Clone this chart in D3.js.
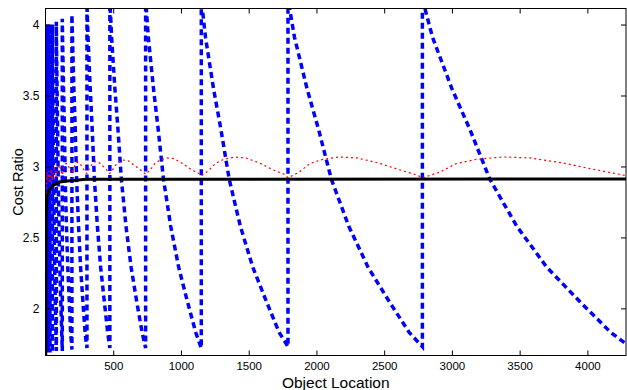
<!DOCTYPE html>
<html>
<head>
<meta charset="utf-8">
<script src="https://cdn.jsdelivr.net/npm/d3@7"></script>
<style>
  body { margin: 0; background: #fff; }
  text { font-family: Arial, "Liberation Sans", sans-serif; }
</style>
</head>
<body>
<div id="chart"></div>
<script>
// tick labels
const xTicks = [500, 1000, 1500, 2000, 2500, 3000, 3500, 4000];
const yTicks = [2, 2.5, 3, 3.5, 4];

// blue dashed sawtooth (x, cost ratio)
const blueSeries = [
  [1.5, 4.0], [1.8, 2.9], [2.3, 1.69],
  [2.3, 4.0], [2.7, 2.9], [3.6, 1.69],
  [3.6, 4.0], [4.2, 2.9], [5.6, 1.69],
  [5.6, 4.0], [6.6, 2.9], [8.7, 1.69],
  [8.7, 4.0], [10.3, 2.9], [13.6, 1.69],
  [13.6, 4.0], [16, 2.9], [21, 1.69],
  [21, 4.0], [24.8, 2.9], [33, 1.69],
  [33, 4.0], [35, 3.7], [39, 2.9], [45, 2.2], [51, 1.69],
  [51, 4.0], [52, 3.8], [55, 3.5], [57, 3.2], [60, 2.9], [64, 2.55], [68, 2.27], [72, 2.04], [77, 1.82], [80, 1.7],
  [80, 4.02], [82, 3.82], [86, 3.5], [90, 3.22], [94, 2.9], [100, 2.57], [106, 2.28], [113, 2.04], [120, 1.82], [124, 1.7],
  [124, 4.04], [127, 3.85], [134, 3.52], [140, 3.24], [146, 2.9], [155, 2.57], [165, 2.28], [176, 2.04], [186, 1.82], [195, 1.71],
  [195, 4.07], [200, 3.88], [210, 3.53], [220, 3.25], [230, 2.9], [244, 2.58], [259, 2.29], [276, 2.05], [293, 1.82], [306, 1.72],
  [306, 4.15], [314, 3.91], [330, 3.55], [345, 3.26], [361, 2.91], [383, 2.58], [407, 2.29], [434, 2.05], [459, 1.83], [475, 1.72],
  [475, 4.18], [488, 3.91], [512, 3.55], [535, 3.26], [560, 2.91], [594, 2.58], [632, 2.29], [673, 2.05], [713, 1.83], [739, 1.72],
  [739, 4.18], [759, 3.91], [797, 3.55], [832, 3.26], [871, 2.91], [924, 2.58], [983, 2.29], [1047, 2.05], [1109, 1.83], [1150, 1.72],
  [1150, 4.18], [1181, 3.91], [1240, 3.55], [1295, 3.26], [1356, 2.91], [1438, 2.58], [1530, 2.29], [1630, 2.05], [1725, 1.83], [1790, 1.73],
  [1790, 4.18], [1838, 3.91], [1930, 3.55], [2016, 3.26], [2110, 2.91], [2238, 2.58], [2381, 2.29], [2536, 2.05], [2685, 1.83], [2782, 1.73],
  [2782, 4.18], [2857, 3.91], [2999, 3.55], [3133, 3.26], [3280, 2.91], [3478, 2.58], [3700, 2.29], [3942, 2.05], [4173, 1.83], [4285, 1.75]
];

// red dotted curve
const redSeries = [
  [1, 1.5], [2, 2.3], [3, 2.6], [5, 2.8], [8, 2.9], [12, 2.96], [18, 2.9], [25, 2.97], [33, 2.88], [42, 2.98],
  [51, 2.9], [60, 2.97], [68, 2.99], [76, 2.93],
  [80, 2.93], [90, 2.99], [100, 3.01], [112, 2.98], [122, 2.94],
  [124, 2.94], [135, 2.99], [150, 3.02], [160, 3.02], [175, 2.99], [190, 2.955],
  [195, 2.95], [204, 2.975], [213, 3.0], [223, 3.02], [237, 3.03], [251, 3.025], [268, 3.0], [285, 2.975], [299, 2.955],
  [306, 2.95], [320, 2.98], [334, 3.0], [350, 3.025], [371, 3.035], [393, 3.03], [420, 3.005], [448, 2.98], [469, 2.955],
  [475, 2.95], [497, 2.98], [518, 3.01], [543, 3.035], [576, 3.045], [610, 3.04], [652, 3.01], [695, 2.98], [728, 2.955],
  [739, 2.945], [773, 2.975], [806, 3.02], [845, 3.045], [896, 3.06], [950, 3.055], [1014, 3.02], [1081, 2.975], [1132, 2.95],
  [1150, 2.935], [1203, 2.97], [1254, 3.02], [1314, 3.05], [1395, 3.066], [1478, 3.06], [1578, 3.025], [1682, 2.975], [1762, 2.945],
  [1790, 2.92], [1872, 2.96], [1951, 3.02], [2046, 3.05], [2171, 3.067], [2300, 3.06], [2456, 3.025], [2619, 2.975], [2742, 2.94],
  [2782, 2.92], [2910, 2.96], [3032, 3.02], [3180, 3.05], [3375, 3.067], [3575, 3.06], [3817, 3.025], [4070, 2.975], [4262, 2.94], [4285, 2.935]
];

// black solid curve
const blackSeries = [
  [1, 1.0], [2, 2.0], [3, 2.4], [5, 2.65], [10, 2.78], [25, 2.83], [55, 2.867],
  [104, 2.89], [178, 2.9], [300, 2.91], [4285, 2.912]
];

const width = 627, height = 390;
const plotLeft = 45.5, plotTop = 8.5, plotRight = 626, plotBottom = 355.5;

const x = d3.scaleLinear().domain([0, 4285]).range([plotLeft, plotRight]);
const y = d3.scaleLinear().domain([1.668, 4.113]).range([plotBottom, plotTop]);

const svg = d3.select("#chart")
  .append("svg")
  .attr("width", width)
  .attr("height", height);

svg.append("clipPath")
  .attr("id", "plotClip")
  .append("rect")
  .attr("x", plotLeft).attr("y", plotTop)
  .attr("width", plotRight - plotLeft).attr("height", plotBottom - plotTop);

const line = d3.line()
  .x(d => x(d[0]))
  .y(d => y(d[1]));

const plot = svg.append("g").attr("clip-path", "url(#plotClip)");

plot.append("path")
  .attr("d", line(blueSeries))
  .attr("fill", "none")
  .attr("stroke", "#0000ff")
  .attr("stroke-width", 3.5)
  .attr("stroke-dasharray", "6,4");

plot.append("path")
  .attr("d", line(redSeries))
  .attr("fill", "none")
  .attr("stroke", "#ff0000")
  .attr("stroke-width", 1.2)
  .attr("stroke-dasharray", "2,3");

plot.append("path")
  .attr("d", line(blackSeries))
  .attr("fill", "none")
  .attr("stroke", "#000")
  .attr("stroke-width", 3);

// axes, matlab style ticks pointing inwards
const fmt = d => d3.format("")(d);

const gx = svg.append("g")
  .attr("transform", `translate(0,${plotBottom})`)
  .call(d3.axisBottom(x).tickValues(xTicks).tickFormat(fmt).tickSizeInner(-5).tickSizeOuter(0).tickPadding(6));
gx.selectAll("text").style("font-size", "11.5px").attr("fill", "#000");

svg.append("g")
  .attr("transform", `translate(0,${plotTop})`)
  .call(d3.axisTop(x).tickValues(xTicks).tickFormat("").tickSizeInner(-5).tickSizeOuter(0));

const gy = svg.append("g")
  .attr("transform", `translate(${plotLeft},0)`)
  .call(d3.axisLeft(y).tickValues(yTicks).tickFormat(fmt).tickSizeInner(-5).tickSizeOuter(0).tickPadding(6));
gy.selectAll("text").style("font-size", "12px").attr("fill", "#000");

svg.append("g")
  .attr("transform", `translate(${plotRight},0)`)
  .call(d3.axisRight(y).tickValues(yTicks).tickFormat("").tickSizeInner(-5).tickSizeOuter(0));

svg.selectAll(".domain").remove();
svg.selectAll(".tick line").attr("stroke", "#000");

svg.append("rect")
  .attr("x", plotLeft).attr("y", plotTop)
  .attr("width", plotRight - plotLeft).attr("height", plotBottom - plotTop)
  .attr("fill", "none")
  .attr("stroke", "#000")
  .attr("stroke-width", 1);

svg.append("text")
  .attr("x", (plotLeft + plotRight) / 2)
  .attr("y", 387.5)
  .attr("text-anchor", "middle")
  .style("font-size", "15.5px")
  .text("Object Location");

svg.append("text")
  .attr("transform", `translate(23,${(plotTop + plotBottom) / 2}) rotate(-90)`)
  .attr("text-anchor", "middle")
  .style("font-size", "14.5px")
  .text("Cost Ratio");
</script>
</body>
</html>
